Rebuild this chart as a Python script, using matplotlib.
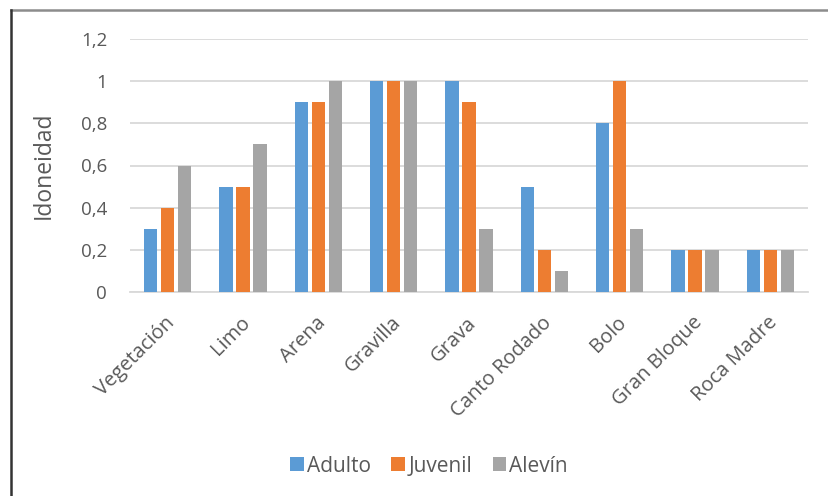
import matplotlib.pyplot as plt
import matplotlib.transforms as mtransforms
from matplotlib.lines import Line2D
import numpy as np

# data
categories = ['Vegetación', 'Limo', 'Arena', 'Gravilla', 'Grava',
              'Canto Rodado', 'Bolo', 'Gran Bloque', 'Roca Madre']
adulto = [0.3, 0.5, 0.9, 1.0, 1.0, 0.5, 0.8, 0.2, 0.2]
juvenil = [0.4, 0.5, 0.9, 1.0, 0.9, 0.2, 1.0, 0.2, 0.2]
alevin = [0.6, 0.7, 1.0, 1.0, 0.3, 0.1, 0.3, 0.2, 0.2]
series_names = ['Adulto', 'Juvenil', 'Alevín']
yticks = [0, 0.2, 0.4, 0.6, 0.8, 1.0, 1.2]
ytick_labels = ['0', '0,2', '0,4', '0,6', '0,8', '1', '1,2']

colors = ['#5B9BD5', '#ED7D31', '#A5A5A5']
txt = '#595959'

plt.rcParams['font.family'] = ['Open Sans', 'DejaVu Sans']

fig = plt.figure(figsize=(8.29, 4.96), dpi=100)
ax = fig.add_axes([130/829, 1-292/496, (808-130)/829, (292-39)/496])

x = np.arange(len(categories))
w = 0.18
step = 0.225
for i, vals in enumerate([adulto, juvenil, alevin]):
    ax.bar(x + (i-1)*step, vals, width=w, color=colors[i],
           label=series_names[i], zorder=3)

ax.set_xlim(-0.5, len(categories)-0.5)
ax.set_ylim(0, 1.2)
ax.set_yticks(yticks)
ax.set_yticklabels(ytick_labels)
ax.yaxis.grid(True, color='#D9D9D9', linewidth=1.3, zorder=0)
ax.tick_params(axis='y', length=0, labelsize=13.5, colors=txt, pad=16.5)
ax.tick_params(axis='x', length=0, labelsize=14.5, colors=txt)
for s in ['top', 'right', 'left']:
    ax.spines[s].set_visible(False)
ax.spines['bottom'].set_color('#D9D9D9')
ax.spines['bottom'].set_linewidth(1.3)

ax.set_xticks(x)
ax.set_xticklabels(categories, rotation=45, ha='right', va='top',
                   rotation_mode='anchor')
# excel puts the end of each rotated label just under the category centre
offset = mtransforms.ScaledTranslation(-3/100, -16/100, fig.dpi_scale_trans)
for lab in ax.get_xticklabels():
    lab.set_transform(lab.get_transform() + offset)

ax.set_ylabel('Idoneidad', fontsize=16.5, color=txt, labelpad=18)

fig.legend(loc='center', bbox_to_anchor=(429/829, 1-466/496), ncol=3,
           frameon=False, fontsize=15, labelcolor=txt, handlelength=0.65,
           handleheight=0.65, handletextpad=0.15, columnspacing=1.0)

# outer frame of the original screenshot (top and left edges only)
fig.add_artist(Line2D([11/829, 1], [1-10/496, 1-10/496],
                      transform=fig.transFigure, color='#8c8c8c', lw=1.8))
fig.add_artist(Line2D([11/829, 11/829], [0, 1-10/496],
                      transform=fig.transFigure, color='#333333', lw=1.8))

fig.savefig('out.png', dpi=100)
